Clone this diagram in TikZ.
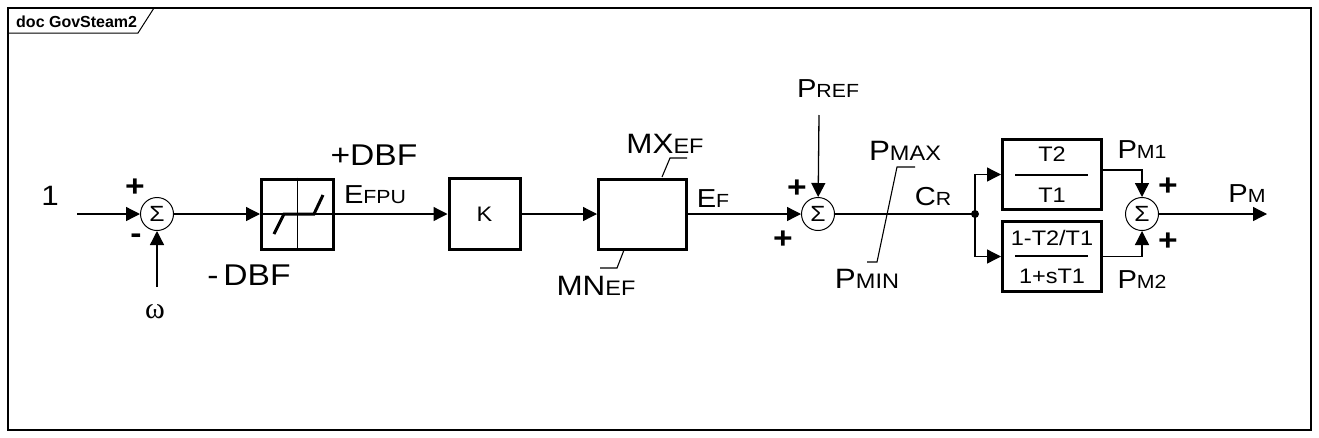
\documentclass[tikz,border=0pt]{standalone}
\usepackage{fontspec}
\setmainfont[FakeStretch=1.12]{Liberation Sans}
\newfontfamily\tabfont{Liberation Sans}
\newfontfamily\greekserif{Liberation Serif}
\usetikzlibrary{arrows.meta}
\newcommand{\mylab}[2]{{\fontsize{26}{28}\selectfont #1}{\fontsize{19}{20}\selectfont #2}}
\newcommand{\mylabB}[2]{{\fontsize{28}{30}\selectfont #1}{\fontsize{21}{22}\selectfont #2}}
\begin{document}
\begin{tikzpicture}[x=1pt,y=-1pt,
  sig/.style={line width=1.3pt},
  arr/.style={sig,-{Triangle[length=14pt,width=14pt]}},
  blk/.style={draw,line width=3pt,inner sep=0pt},
  sumnode/.style={draw,circle,line width=1pt,minimum size=33pt,inner sep=0pt,font=\fontsize{22}{22}\selectfont},
  lab/.style={anchor=base,inner sep=0pt},
  sgn/.style={inner sep=0pt,font=\bfseries\fontsize{30}{30}\selectfont},
  lead/.style={line width=1.1pt}]
\useasboundingbox (0,0) rectangle (1319,437);
% frame
\draw[line width=1.5pt] (8,8) rectangle (1311,430);
\draw[line width=1pt] (8,33) -- (138,33) -- (154,8);
\node[anchor=base west,inner sep=0pt,font=\tabfont\bfseries\fontsize{16}{17}\selectfont] (title) at (16,27) {doc GovSteam2};

% blocks
\node[sumnode] (s1) at (157,214) {Σ};
\node[blk,minimum width=72pt,minimum height=70pt] (db) at (297.5,214) {};
\node[blk,minimum width=71pt,minimum height=71pt,font=\fontsize{21}{22}\selectfont] (K) at (484.5,214) {K};
\node[blk,minimum width=88pt,minimum height=70pt] (lim) at (642.5,214) {};
\node[sumnode] (s2) at (818,214) {Σ};
\node[circle,fill,inner sep=0pt,minimum size=8pt] (j) at (975,214) {};
\node[blk,minimum width=99pt,minimum height=70pt] (b1) at (1052,174.5) {};
\node[blk,minimum width=99pt,minimum height=70pt] (b2) at (1052,256.5) {};
\node[sumnode] (s3) at (1142,214) {Σ};

% deadband internals
\draw[sig] (db.west) -- (db.east);
\draw[sig] (db.north) -- (db.south);
\draw[line width=3pt] (274,234) -- (284,214) -- (314,214) -- (323,195);

% fractions
\node[inner sep=0pt,font=\fontsize{21}{22}\selectfont] (t2) at (1052,154) {T2};
\node[inner sep=0pt,font=\fontsize{21}{22}\selectfont] (t1) at (1052,195) {T1};
\draw[sig] (1015,175) -- (1088,175);
\node[inner sep=0pt,font=\fontsize{21}{22}\selectfont] (n2) at (1052,238) {1-T2/T1};
\node[inner sep=0pt,font=\fontsize{21}{22}\selectfont] (d2) at (1052,276) {1+sT1};
\draw[sig] (1015,256) -- (1088,256);

% connectors
\coordinate (in1) at (77,214);
\coordinate (om) at (157,287);
\coordinate (pref) at (819,115);
\coordinate (out) at (1267,214);
\draw[arr] (in1) -- (s1);
\draw[arr] (om) -- (s1);
\draw[arr] (s1) -- (db.west);
\draw[arr] (db.east) -- (K.west);
\draw[arr] (K.east) -- (lim.west);
\draw[arr] (lim.east) -- (s2);
\draw[arr] (pref) -- (s2);
\draw[sig] (s2) -- (j.center);
\draw[arr] (j.center) |- (b1.west);
\draw[arr] (j.center) |- (b2.west);
\draw[arr] ([yshift=4.5pt]b1.east) -| (s3.north);
\draw[arr] (b2.east) -| (s3.south);
\draw[arr] (s3) -- (out);

% limiter leaders
\draw[lead] (687,158) -- (670,158) -- (662,177);
\draw[lead] (624,250) -- (617,268) -- (600,268);
\draw[lead] (867,262) -- (877,262) -- (897,167) -- (915,167);

% labels
\node[lab,font=\fontsize{28}{30}\selectfont] (one) at (50,205) {1};
\node[sgn] (p1) at (135,188) {+};
\node[sgn] (m1) at (136,239) {-};
\node[inner sep=0pt,font=\greekserif\fontsize{30}{30}\selectfont] (w) at (155,312) {ω};
\node[lab,font=\fontsize{30}{32}\selectfont] (pdbf) at (374,165) {+DBF};
\node[lab,font=\fontsize{30}{32}\selectfont] (mdbf) at (249,285) {-\,DBF};
\node[lab] (efpu) at (375,203) {\mylab{E}{FPU}};
\node[lab] (mxef) at (665,153) {\mylabB{MX}{EF}};
\node[lab] (mnef) at (596,295) {\mylabB{MN}{EF}};
\node[lab] (ef) at (713,207) {\mylab{E}{F}};
\node[lab] (prefl) at (828,97) {\mylab{P}{REF}};
\node[sgn] (p2) at (797,189) {+};
\node[sgn] (p3) at (783,240) {+};
\node[lab] (pmax) at (905,160) {\mylabB{P}{MAX}};
\node[lab] (pmin) at (867,288) {\mylabB{P}{MIN}};
\node[lab] (cr) at (933,205) {\mylab{C}{R}};
\node[lab] (pm1) at (1142,158) {\mylab{P}{M1}};
\node[lab] (pm2) at (1142,288) {\mylab{P}{M2}};
\node[sgn] (p4) at (1168,187) {+};
\node[sgn] (p5) at (1168,242) {+};
\node[lab] (pm) at (1247,202) {\mylab{P}{M}};
\end{tikzpicture}
\end{document}
